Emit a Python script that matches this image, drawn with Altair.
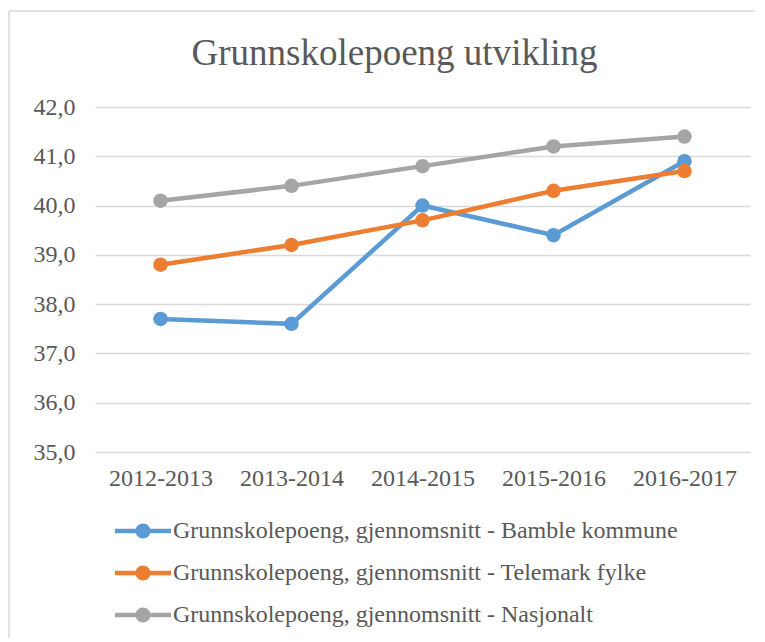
import altair as alt
import pandas as pd

years = ["2012-2013", "2013-2014", "2014-2015", "2015-2016", "2016-2017"]
series_names = [
    "Grunnskolepoeng, gjennomsnitt - Bamble kommune",
    "Grunnskolepoeng, gjennomsnitt - Telemark fylke",
    "Grunnskolepoeng, gjennomsnitt - Nasjonalt",
]
bamble = [37.7, 37.6, 40.0, 39.4, 40.9]
telemark = [38.8, 39.2, 39.7, 40.3, 40.7]
nasjonalt = [40.1, 40.4, 40.8, 41.2, 41.4]
colors = ["#5B9BD5", "#ED7D31", "#A5A5A5"]
y_ticks = [35, 36, 37, 38, 39, 40, 41, 42]

rows = []
for name, vals in zip(series_names, [bamble, telemark, nasjonalt]):
    for yr, v in zip(years, vals):
        rows.append({"År": yr, "Serie": name, "Verdi": v})
df = pd.DataFrame(rows)

FONT = "Liberation Serif"
TXT = "#595959"
GRID = "#D9D9D9"

x_enc = alt.X("År:N", sort=years, title=None,
              scale=alt.Scale(paddingInner=0, paddingOuter=0.5),
              axis=alt.Axis(labelAngle=0, ticks=False, domain=False, grid=False,
                            labelFont=FONT, labelFontSize=24, labelColor=TXT,
                            labelPadding=14))
y_enc = alt.Y("Verdi:Q", title=None,
              scale=alt.Scale(domain=[35, 42], nice=False, zero=False),
              axis=alt.Axis(values=y_ticks, ticks=False, domain=False,
                            gridColor=GRID, gridWidth=1.5,
                            labelFont=FONT, labelFontSize=24, labelColor=TXT,
                            labelPadding=20,
                            labelExpr="replace(format(datum.value, '.1f'), '.', ',')"))

sym_path = ("M-1.87,-0.15H1.87V0.15H-1.87Z "
            "M-0.5,0A0.5,0.5,0,1,1,0.5,0A0.5,0.5,0,1,1,-0.5,0Z")

color_scale = alt.Scale(domain=series_names, range=colors)

lines = alt.Chart(df).mark_line(strokeWidth=4.5).encode(
    x=x_enc, y=y_enc,
    color=alt.Color("Serie:N", scale=color_scale, legend=None),
)
points = alt.Chart(df).mark_circle(size=210, opacity=1).encode(
    x=x_enc, y=y_enc,
    color=alt.Color("Serie:N", scale=color_scale,
                    legend=alt.Legend(title=None, orient="none",
                                      legendX=33, legendY=409,
                                      direction="vertical",
                                      symbolType=sym_path, symbolSize=900,
                                      symbolStrokeWidth=0, symbolOpacity=1,
                                      labelFont=FONT, labelFontSize=24,
                                      labelColor=TXT, labelOffset=15,
                                      rowPadding=15, labelLimit=700)),
)

frame_df = pd.DataFrame({"a": [0]})
left_border = alt.Chart(frame_df).mark_rule(color=GRID, strokeWidth=1.5).encode(
    x=alt.value(-86), y=alt.value(-96), y2=alt.value(540))
top_border = alt.Chart(frame_df).mark_rule(color=GRID, strokeWidth=1.5).encode(
    x=alt.value(-86), x2=alt.value(670), y=alt.value(-96))

chart = alt.layer(left_border, top_border, lines, points).resolve_scale(
    color="independent"
).resolve_legend(color="independent").properties(
    width=655, height=345,
    autosize=alt.AutoSizeParams(type="none"),
    padding={"left": 87, "top": 99, "right": 5, "bottom": 186},
    title=alt.TitleParams("Grunnskolepoeng utvikling", font=FONT, fontSize=37,
                          fontWeight="normal", color=TXT, anchor="middle",
                          dx=-28, offset=-63),
).configure_view(stroke=None)

chart.save("out.html", embed_options={"renderer": "svg", "actions": False})
